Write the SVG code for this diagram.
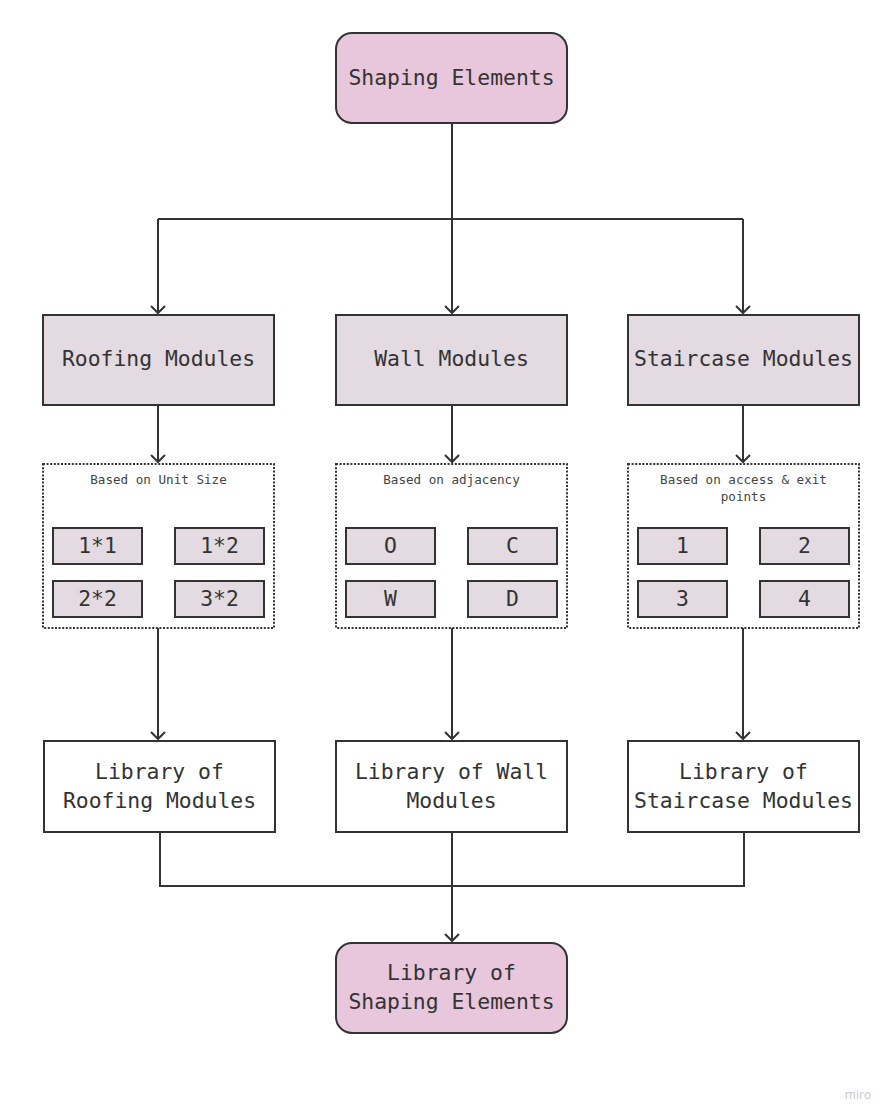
<svg xmlns="http://www.w3.org/2000/svg" width="893" height="1119" viewBox="0 0 893 1119">
<defs>
<marker id="arr" markerUnits="userSpaceOnUse" markerWidth="20" markerHeight="20" refX="10" refY="10" orient="auto" viewBox="0 0 20 20">
<path d="M3,3 L10,10 L3,17" fill="none" stroke="#333" stroke-width="2"/>
</marker>
<style>
.term{fill:#e8c7dc;stroke:#333;stroke-width:2}
.mod{fill:#e3dbe1;stroke:#333;stroke-width:2}
.lib{fill:#fff;stroke:#333;stroke-width:2}
.grp{fill:#fff;stroke:#333;stroke-width:2;stroke-dasharray:2 1.6}
.cell{fill:#e3dbe1;stroke:#333;stroke-width:2}
.t{font-family:"DejaVu Sans Mono","Liberation Mono",monospace;font-size:21.4px;fill:#333;text-anchor:middle}
.s{font-family:"DejaVu Sans Mono","Liberation Mono",monospace;font-size:12.6px;fill:#444;text-anchor:middle}
.c{fill:none;stroke:#333;stroke-width:2}
</style>
</defs>
<rect width="893" height="1119" fill="#fff"/>

<g id="connectors">
<path class="c" d="M452,124 V219"/>
<path class="c" d="M158,219 H743"/>
<path class="c" d="M158,219 V313" marker-end="url(#arr)"/>
<path class="c" d="M452,219 V313" marker-end="url(#arr)"/>
<path class="c" d="M743,219 V313" marker-end="url(#arr)"/>
<path class="c" d="M158,405 V462" marker-end="url(#arr)"/>
<path class="c" d="M452,405 V462" marker-end="url(#arr)"/>
<path class="c" d="M743,405 V462" marker-end="url(#arr)"/>
<path class="c" d="M158,628 V739" marker-end="url(#arr)"/>
<path class="c" d="M452,628 V739" marker-end="url(#arr)"/>
<path class="c" d="M743,628 V739" marker-end="url(#arr)"/>
<path class="c" d="M160,832 V886 H744 V832"/>
<path class="c" d="M452,832 V941" marker-end="url(#arr)"/>
</g>

<g id="shaping-elements">
<rect class="term" x="336" y="33" width="231" height="90" rx="16"/>
<text class="t" x="451.5" y="85">Shaping Elements</text>
</g>

<g id="roofing-modules">
<rect class="mod" x="43" y="315" width="231" height="90"/>
<text class="t" x="158.5" y="366">Roofing Modules</text>
</g>
<g id="wall-modules">
<rect class="mod" x="336" y="315" width="231" height="90"/>
<text class="t" x="451.5" y="366">Wall Modules</text>
</g>
<g id="staircase-modules">
<rect class="mod" x="628" y="315" width="231" height="90"/>
<text class="t" x="743.5" y="366">Staircase Modules</text>
</g>

<g id="roofing-group">
<rect class="grp" x="43" y="464" width="231" height="164"/>
<text class="s" x="158.5" y="484">Based on Unit Size</text>
<rect class="cell" x="53" y="528" width="89" height="36"/>
<text class="t" x="97.5" y="553">1*1</text>
<rect class="cell" x="175" y="528" width="89" height="36"/>
<text class="t" x="219.5" y="553">1*2</text>
<rect class="cell" x="53" y="581" width="89" height="36"/>
<text class="t" x="97.5" y="606">2*2</text>
<rect class="cell" x="175" y="581" width="89" height="36"/>
<text class="t" x="219.5" y="606">3*2</text>
</g>

<g id="wall-group">
<rect class="grp" x="336" y="464" width="231" height="164"/>
<text class="s" x="451.5" y="484">Based on adjacency</text>
<rect class="cell" x="346" y="528" width="89" height="36"/>
<text class="t" x="390.5" y="553">O</text>
<rect class="cell" x="468" y="528" width="89" height="36"/>
<text class="t" x="512.5" y="553">C</text>
<rect class="cell" x="346" y="581" width="89" height="36"/>
<text class="t" x="390.5" y="606">W</text>
<rect class="cell" x="468" y="581" width="89" height="36"/>
<text class="t" x="512.5" y="606">D</text>
</g>

<g id="staircase-group">
<rect class="grp" x="628" y="464" width="231" height="164"/>
<text class="s" x="743.5" y="484">Based on access &amp; exit</text>
<text class="s" x="743.5" y="501">points</text>
<rect class="cell" x="638" y="528" width="89" height="36"/>
<text class="t" x="682.5" y="553">1</text>
<rect class="cell" x="760" y="528" width="89" height="36"/>
<text class="t" x="804.5" y="553">2</text>
<rect class="cell" x="638" y="581" width="89" height="36"/>
<text class="t" x="682.5" y="606">3</text>
<rect class="cell" x="760" y="581" width="89" height="36"/>
<text class="t" x="804.5" y="606">4</text>
</g>

<g id="library-roofing">
<rect class="lib" x="44" y="741" width="231" height="91"/>
<text class="t" x="159.5" y="779">Library of</text>
<text class="t" x="159.5" y="808">Roofing Modules</text>
</g>
<g id="library-wall">
<rect class="lib" x="336" y="741" width="231" height="91"/>
<text class="t" x="451.5" y="779">Library of Wall</text>
<text class="t" x="451.5" y="808">Modules</text>
</g>
<g id="library-staircase">
<rect class="lib" x="628" y="741" width="231" height="91"/>
<text class="t" x="743.5" y="779">Library of</text>
<text class="t" x="743.5" y="808">Staircase Modules</text>
</g>

<g id="library-shaping">
<rect class="term" x="336" y="943" width="231" height="90" rx="16"/>
<text class="t" x="451.5" y="980">Library of</text>
<text class="t" x="451.5" y="1009">Shaping Elements</text>
</g>

<text x="858" y="1099" font-family="'Open Sans','Liberation Sans',sans-serif" font-size="12" fill="#c8c8cc" text-anchor="middle">miro</text>
</svg>
